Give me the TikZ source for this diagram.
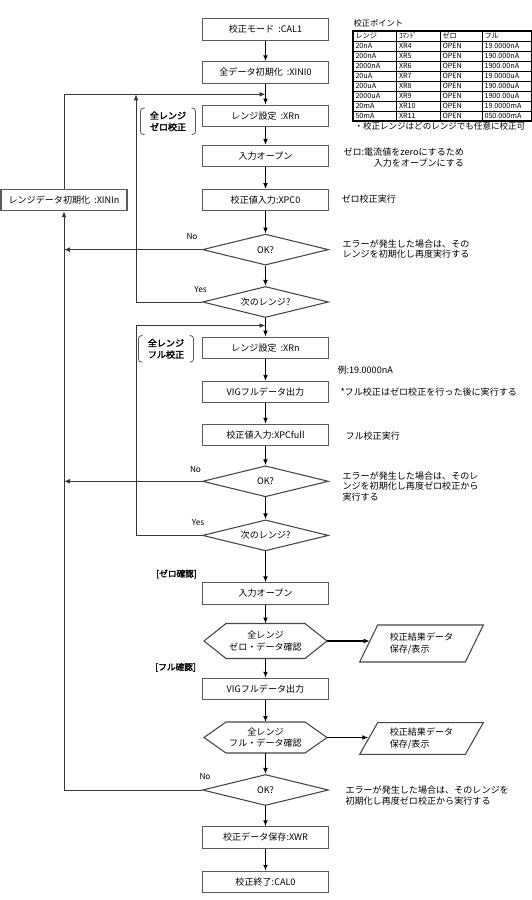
\documentclass[tikz,border=0pt]{standalone}
\usepackage{fontspec}
\setmainfont{Noto Sans CJK JP}[AutoFakeBold=2]
\usetikzlibrary{shapes.geometric,arrows.meta}

\tikzset{every picture/.style={line width=0.75pt}}

\begin{document}
\begin{tikzpicture}[x=0.75pt,y=0.75pt,yscale=-1,xscale=1,
  proc/.style={draw={rgb, 255:red, 90; green, 90; blue, 90},fill=white,line width=0.8pt,minimum width=94.5pt,minimum height=16pt,inner sep=0.75pt,font=\fontsize{6.8}{8}\selectfont},
  dec/.style={diamond,aspect=4,draw={rgb, 255:red, 70; green, 70; blue, 70},fill=white,line width=0.8pt,minimum width=94.5pt,minimum height=23.25pt,inner sep=0pt,font=\fontsize{6.8}{8}\selectfont},
  shp/.style={inner sep=0pt,align=center,font=\fontsize{6.8}{8.8}\selectfont},
  outl/.style={draw={rgb, 255:red, 70; green, 70; blue, 70},line width=0.8pt},
  note/.style={anchor=west,inner sep=0.75pt,align=left,font=\fontsize{6.8}{8}\selectfont},
  lbl/.style={inner sep=0.75pt,font=\fontsize{6.2}{7}\selectfont},
  grp/.style={inner sep=0pt,minimum width=40.5pt,minimum height=19pt,align=left,font=\bfseries\fontsize{6.8}{8.6}\selectfont},
  brk/.style={draw={rgb, 255:red, 90; green, 90; blue, 90},line width=0.6pt,rounded corners=2.2pt},
  cell/.style={anchor=west,inner sep=0pt,font=\fontsize{5.4}{6}\selectfont},
  flow/.style={line width=1pt,-{Latex[length=4.5pt,width=3.6pt]}},
  back/.style={line width=0.7pt,draw={rgb, 255:red, 55; green, 55; blue, 55},-{Latex[length=4.5pt,width=3.6pt]}},
  backn/.style={line width=0.7pt,draw={rgb, 255:red, 55; green, 55; blue, 55}}]
\useasboundingbox (0,0) rectangle (532,900);

%Flowchart: Process -- zero calibration
\node (cal1) [proc] at (265.5,29.4) {校正モード\ \ :CAL1};
\node (ini0) [proc] at (265.5,72.5) {全データ初期化\ \ :XINI0};
\node (rng1) [proc] at (265.5,115.7) {レンジ設定\ \ :XRn};
\node (opn1) [proc] at (265.5,156.1) {入力オープン};
\node (pc0) [proc] at (265.5,200.2) {校正値入力:XPC0};
\node (inin) [proc] at (64,200) {レンジデータ初期化\ \ :XINIn};
%Flowchart: Decision
\node (ok1) [dec] at (265.5,249.6) {OK?};
\node (nx1) [dec] at (265.5,302) {次のレンジ?};

%Flowchart: Process -- full calibration
\node (rng2) [proc] at (265.5,347.8) {レンジ設定\ \ :XRn};
\node (vig1) [proc] at (265.5,392.1) {VIGフルデータ出力};
\node (pcf) [proc] at (265.5,435) {校正値入力:XPCfull};
\node (ok2) [dec] at (265.5,481.3) {OK?};
\node (nx2) [dec] at (265.5,535.4) {次のレンジ?};

%Flowchart: Process -- check
\node (opn2) [proc] at (265.5,593.5) {入力オープン};
\node (hx1) [shp,minimum width=91.5pt,minimum height=25.5pt] at (265.5,641) {全レンジ\\ゼロ・データ確認};
\node (vig2) [proc] at (265.5,689) {VIGフルデータ出力};
\node (hx2) [shp,minimum width=91.5pt,minimum height=22.5pt] at (265.5,737.5) {全レンジ\\フル・データ確認};
\node (ok3) [dec] at (265.5,790) {OK?};
\node (xwr) [proc] at (265.5,837.5) {校正データ保存:XWR};
\node (cal0) [proc] at (265.5,882) {校正終了:CAL0};

%Flowchart: Data
\node (dat1) [shp,align=left,minimum width=92pt,minimum height=27pt] at (421.5,643.5) {校正結果データ\\保存/表示};
\node (dat2) [shp,align=left,minimum width=92pt,minimum height=23pt] at (421.5,738.5) {校正結果データ\\保存/表示};

%Shape: Hexagon
\draw [outl] (hx1.west) -- ([xshift=16.5pt]hx1.north west) -- ([xshift=-16.5pt]hx1.north east) -- (hx1.east) -- ([xshift=-16.5pt]hx1.south east) -- ([xshift=16.5pt]hx1.south west) -- cycle ;
\draw [outl] (hx2.west) -- ([xshift=16.5pt]hx2.north west) -- ([xshift=-16.5pt]hx2.north east) -- (hx2.east) -- ([xshift=-16.5pt]hx2.south east) -- ([xshift=16.5pt]hx2.south west) -- cycle ;
%Shape: Parallelogram
\draw [outl] ([xshift=13.5pt]dat1.north west) -- (dat1.north east) -- ([xshift=-13.5pt]dat1.south east) -- (dat1.south west) -- cycle ;
\draw [outl] ([xshift=13.5pt]dat2.north west) -- (dat2.north east) -- ([xshift=-13.5pt]dat2.south east) -- (dat2.south west) -- cycle ;

%Straight Lines -- main flow
\draw [flow] (cal1) -- (ini0) ;
\draw [flow] (ini0) -- (rng1) ;
\draw [flow] (rng1) -- (opn1) ;
\draw [flow] (opn1) -- (pc0) ;
\draw [flow] (pc0) -- (ok1) ;
\draw [flow] (ok1) -- (nx1) ;
\draw [flow] (nx1) -- (rng2) ;
\draw [flow] (rng2) -- (vig1) ;
\draw [flow] (vig1) -- (pcf) ;
\draw [flow] (pcf) -- (ok2) ;
\draw [flow] (ok2) -- (nx2) ;
\draw [flow] (nx2) -- (opn2) ;
\draw [flow] (opn2) -- (hx1) ;
\draw [flow] (hx1) -- (vig2) ;
\draw [flow] (vig2) -- (hx2) ;
\draw [flow] (hx2) -- (ok3) ;
\draw [flow] (ok3) -- (xwr) ;
\draw [flow] (xwr) -- (cal0) ;
\draw [flow,line width=0.8pt] (hx1.east) -- ([xshift=7.5pt]hx1.east -| dat1.west) ;
\draw [flow,line width=0.8pt] (hx2.east) -- ([xshift=6.5pt]hx2.east -| dat2.west) ;

%Straight Lines -- loops
\coordinate (top1) at (265.5,94.3) ;
\coordinate (jn1) at (136,94.3) ;
\coordinate (jn2) at (136,325.5) ;
\coordinate (top2) at (265.5,325.5) ;
\draw [back] (inin.north) |- (top1) ;
\draw [back] (nx1.west) -| (jn1) ;
\draw [backn] (nx2.west) -| (jn2) ;
\draw [back] (jn2) -- (top2) ;
\draw [back] (ok1.west) -- (ok1.west -| inin) ;
\draw [back] (ok2.west) -- (ok2.west -| inin) ;
\draw [back] (ok3.west) -| (inin.south) ;

% Text Node
\node (no1) [lbl] at (192,237) {No};
\node (ys1) [lbl] at (200.5,289.3) {Yes};
\node (no2) [lbl] at (195.5,469.5) {No};
\node (ys2) [lbl] at (198,522.5) {Yes};
\node (no3) [lbl] at (205,776.6) {No};

% Text Node -- group brackets
\node (gz) [grp] at (168,121.3) {全レンジ\\ゼロ校正};
\draw [brk] ([xshift=3pt]gz.north west) -- (gz.north west) -- (gz.south west) -- ([xshift=3pt]gz.south west) ;
\draw [brk] ([xshift=-3pt]gz.north east) -- (gz.north east) -- (gz.south east) -- ([xshift=-3pt]gz.south east) ;
\node (gf) [grp] at (166,348.8) {全レンジ\\フル校正};
\draw [brk] ([xshift=3pt]gf.north west) -- (gf.north west) -- (gf.south west) -- ([xshift=3pt]gf.south west) ;
\draw [brk] ([xshift=-3pt]gf.north east) -- (gf.north east) -- (gf.south east) -- ([xshift=-3pt]gf.south east) ;
\node (cz) [inner sep=0.75pt,font=\bfseries\fontsize{6.5}{7}\selectfont] at (176.5,574) {[ゼロ確認]};
\node (cf) [inner sep=0.75pt,font=\bfseries\fontsize{6.5}{7}\selectfont] at (175.6,667.4) {[フル確認]};

% Text Node -- notes
\node (n1) [note,align=right] at (342,157.3) {ゼロ:電流値をzeroにするため\\入力をオープンにする};
\node (n2) [note] at (340,199) {ゼロ校正実行};
\node (n3) [note] at (341,249.1) {エラーが発生した場合は、その\\レンジを初期化し再度実行する};
\node (n4) [note] at (336,369.6) {例:19.0000nA};
\node (n5) [note] at (339,391.6) {*フル校正はゼロ校正を行った後に実行する};
\node (n6) [note] at (344,435.7) {フル校正実行};
\node (n7) [note] at (341,486.3) {エラーが発生した場合は、そのレ\\ンジを初期化し再度ゼロ校正から\\実行する};
\node (n8) [note] at (344,795.5) {エラーが発生した場合は、そのレンジを\\初期化し再度ゼロ校正から実行する};

% Table -- calibration points
\node (tt) [cell,font=\fontsize{6.2}{7}\selectfont] at (353,23.5) {校正ポイント};
\foreach \y in {41,51,...,111} \draw [line width=0.5pt] (353,\y) -- (531.5,\y) ;
\foreach \x in {396,440,482} \draw [line width=0.5pt] (\x,31) -- (\x,121) ;
\draw [line width=0.9pt] (353,31) rectangle (531.5,121) ;
\node (rg0) [cell] at (355,36) {レンジ};
\node (cm0) [cell] at (398.5,36) {ｺﾏﾝﾄﾞ};
\node (zr0) [cell] at (442,36) {ゼロ};
\node (fl0) [cell] at (484,36) {フル};
\foreach \rg/\cm/\fl [count=\i] in {20nA/XR4/19.0000nA,200nA/XR5/190.000nA,2000nA/XR6/1900.00nA,20uA/XR7/19.0000uA,200uA/XR8/190.000uA,2000uA/XR9/1900.00uA,20mA/XR10/19.0000mA,50mA/XR11/050.000mA}
{
  \node (rg\i) [cell] at (355,{36+10*\i}) {\rg};
  \node (cm\i) [cell] at (398.5,{36+10*\i}) {\cm};
  \node (zr\i) [cell] at (442,{36+10*\i}) {OPEN};
  \node (fl\i) [cell] at (484,{36+10*\i}) {\fl};
}
\node (tn) [note,font=\fontsize{6.4}{7}\selectfont] at (353,126) {・校正レンジはどのレンジでも任意に校正可};

\end{tikzpicture}
\end{document}
